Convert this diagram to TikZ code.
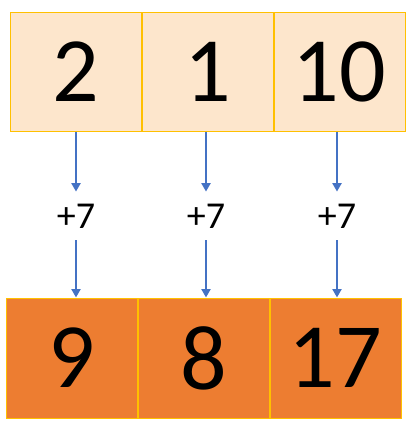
\documentclass[tikz,border=0pt]{standalone}
\usepackage{fontspec}
\setmainfont{Carlito}
\usetikzlibrary{arrows.meta,positioning}
\definecolor{cellfill}{HTML}{FDE6CC}
\definecolor{cellline}{HTML}{FFC000}
\definecolor{sumfill}{HTML}{ED7D31}
\definecolor{arrowblue}{HTML}{4472C4}
\tikzset
{
    cellnode/.style = {rectangle, draw=cellline, fill=cellfill, line width=1pt, align=center, minimum width=131pt, minimum height=119pt, inner sep=0pt, font=\fontsize{92}{92}\selectfont},
    sumnode/.style  = {rectangle, draw=cellline, fill=sumfill, line width=1pt, align=center, minimum width=131pt, minimum height=120pt, inner sep=0pt, font=\fontsize{92}{92}\selectfont},
    addnode/.style  = {inner xsep=2pt, inner ysep=12pt, font=\fontsize{38}{38}\selectfont},
    addarrow/.style = {draw=arrowblue, line width=2.8pt, -{Triangle[width=9pt,length=8.5pt]}}
}
\begin{document}
\begin{tikzpicture}[x=1pt,y=-1pt]
\useasboundingbox (0,0) rectangle (407,434);
\node[cellnode] (a1) at (75.5,71.5) {2};
\node[cellnode,right=0pt of a1] (a2) {1};
\node[cellnode,right=0pt of a2] (a3) {10};
\node[sumnode] (b1) at (71.5,358) {9};
\node[sumnode,right=0pt of b1] (b2) {8};
\node[sumnode,right=0pt of b2] (b3) {17};
\node[addnode] (p1) at (76,216) {+7};
\node[addnode] (p2) at (206,216) {+7};
\node[addnode] (p3) at (337,216) {+7};
\foreach \i in {1,2,3}
{
    \draw[addarrow] (p\i.north |- a\i.south) -- (p\i.north);
    \draw[addarrow] (p\i.south) -- (p\i.south |- b\i.north);
}
\end{tikzpicture}
\end{document}
